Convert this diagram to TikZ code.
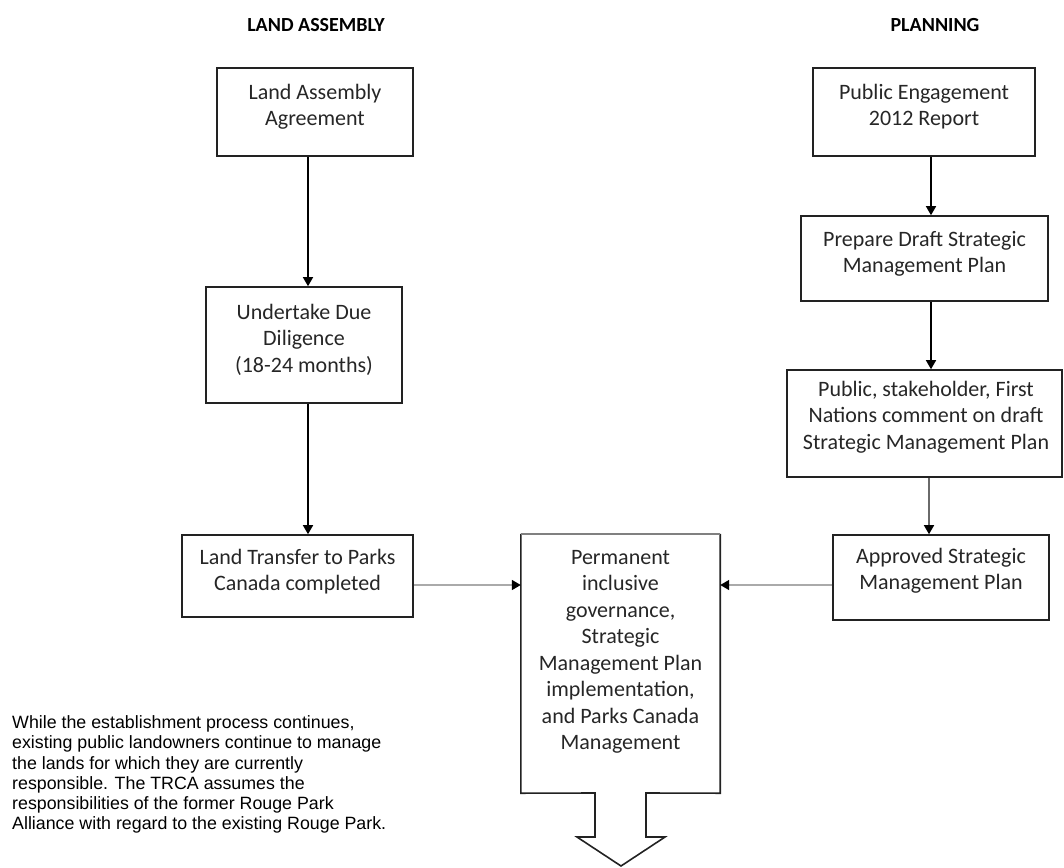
\documentclass[tikz,border=0pt]{standalone}
\usepackage{fontspec}
\setmainfont{Carlito}
\newfontfamily\arialf{Liberation Sans}
\usetikzlibrary{arrows.meta}
\definecolor{boxline}{HTML}{222222}
\definecolor{txt}{HTML}{262626}
\definecolor{lightarr}{HTML}{AAAAAA}
\definecolor{midarr}{HTML}{6A6A6A}
\begin{document}
\begin{tikzpicture}[x=1pt,y=-1pt,
  procbox/.style={draw=boxline, line width=1.6pt, rectangle, inner sep=0pt},
  boxtxt/.style={anchor=north, align=center, inner sep=0pt, text=txt,
    font=\fontsize{22}{26.5}\selectfont},
  header/.style={anchor=base, inner sep=0pt, text=black,
    font=\bfseries\fontsize{20}{24}\selectfont},
  note/.style={anchor=north west, align=left, inner sep=0pt, text=black,
    font=\arialf\fontsize{17.8}{20.2}\selectfont},
  arr/.style={line width=1.5pt, draw=black, -{Triangle[length=9pt,width=10pt]}},
  arrlight/.style={arr, draw=lightarr, -{Triangle[length=9pt,width=10pt,color=black,fill=black]}},
  arrmid/.style={arr, draw=midarr, -{Triangle[length=9pt,width=10pt,color=black,fill=black]}}
]
\useasboundingbox (0,0) rectangle (1064,867);

% headers
\node[header] (hLA) at (316,32) {LAND ASSEMBLY};
\node[header] (hPL) at (935,32) {PLANNING};

% boxes (centre, width, height)
\node[procbox, minimum width=196pt, minimum height=88pt] (LAA) at (315,112) {};
\node[procbox, minimum width=196pt, minimum height=116pt] (UDD) at (304,345) {};
\node[procbox, minimum width=231pt, minimum height=82pt] (LT) at (297.5,576) {};
\node[procbox, minimum width=222pt, minimum height=88pt] (PE) at (924,112) {};
\node[procbox, minimum width=247pt, minimum height=85pt] (PD) at (924.5,258.5) {};
\node[procbox, minimum width=275pt, minimum height=107pt] (PS) at (924.5,423.5) {};
\node[procbox, minimum width=216pt, minimum height=85pt] (AP) at (941,577.5) {};

% central box with down arrow
\node[minimum width=199pt, minimum height=259pt, inner sep=0pt] (C) at (620.5,663.5) {};
\draw[draw=boxline, line width=1.6pt, line join=miter]
  (C.north east) -- (C.south east) -- (646,793) -- (646,837) -- (665,837)
  -- (621,866) -- (577,837) -- (595,837) -- (595,793) -- (C.south west)
  -- (C.north west);
\draw[draw=gray, line width=1.8pt] (C.north west) -- (C.north east);

% box texts
\node[boxtxt] (tLAA) at (315,80.5) {\strut Land Assembly\\Agreement};
\node[boxtxt] (tUDD) at (304,300.5) {\strut Undertake Due\\Diligence\\(18-24 months)};
\node[boxtxt] (tLT) at (297.5,545.5) {\strut Land Transfer to Parks\\Canada completed};
\node[boxtxt] (tPE) at (924,80.5) {\strut Public Engagement\\2012 Report};
\node[boxtxt] (tPD) at (924.5,227.5) {\strut Prepare Draft Strategic\\Management Plan};
\node[boxtxt] (tPS) at (926,377.5) {\strut Public, stakeholder, First\\Nations comment on draft\\Strategic Management Plan};
\node[boxtxt] (tAP) at (941,544.5) {\strut Approved Strategic\\Management Plan};
\node[boxtxt] (tC) at (620.5,545.5) {\strut Permanent\\inclusive\\governance,\\Strategic\\Management Plan\\implementation,\\and Parks Canada\\Management};

% note
\node[note] (nt) at (12,714.4) {\strut While the establishment process continues,\\existing public landowners continue to manage\\the lands for which they are currently\\responsible. The TRCA assumes the\\responsibilities of the former Rouge Park\\Alliance with regard to the existing Rouge Park.};

% connector guides
\coordinate (XL) at (308,0);
\coordinate (XR) at (931,0);
\coordinate (YM) at (0,585);

% connectors
\draw[arr] (LAA.south -| XL) -- (UDD.north -| XL);
\draw[arr] (UDD.south -| XL) -- (LT.north -| XL);
\draw[arr] (PE.south -| XR) -- (PD.north -| XR);
\draw[arr] (PD.south -| XR) -- (PS.north -| XR);
\draw[arrmid] ([xshift=-2pt]PS.south -| XR) -- ([xshift=-2pt]AP.north -| XR);
\draw[arrlight] (LT.east |- YM) -- (C.west |- YM);
\draw[arrlight] (AP.west |- YM) -- (C.east |- YM);
\end{tikzpicture}
\end{document}
